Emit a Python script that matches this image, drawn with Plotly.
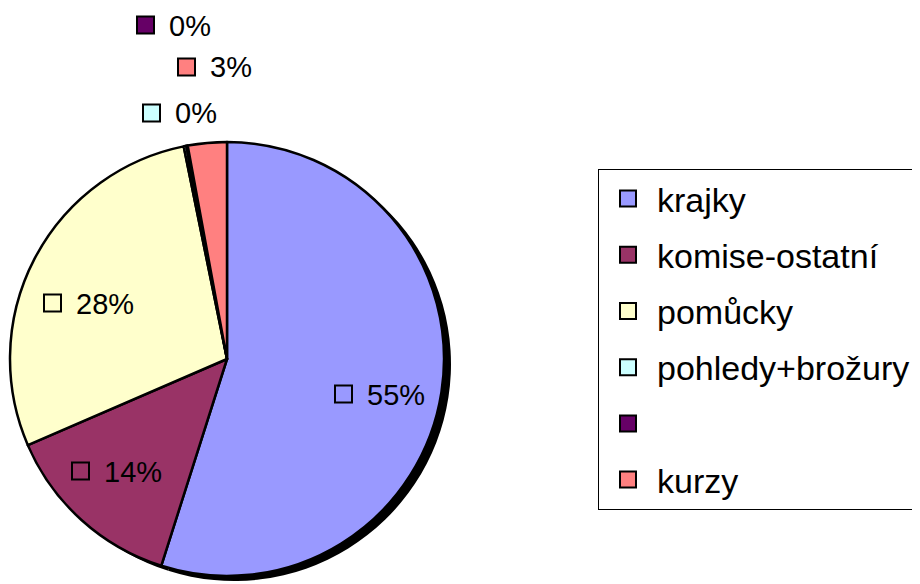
import plotly.graph_objects as go

# ---- data ----
categories = ["krajky", "komise-ostatní", "pomůcky", "pohledy+brožury", "", "kurzy"]
values = [54.9, 13.6, 28.3, 0.2, 0.1, 2.9]
colors = ["#9999FF", "#993366", "#FFFFCC", "#CCFFFF", "#660066", "#FF8080"]

W, H = 920, 584
OFF = 8  # page body margin
FONT = "Liberation Sans, Arial, sans-serif"


def px(x):
    return (x - OFF) / W


def py(y):
    return 1 - (y - OFF) / H


# pie geometry (page pixels)
cx, cy, r = 227, 359, 217
sdx, sdy = 7, 5  # shadow offset


def dom(cx_, cy_):
    return dict(x=[px(cx_ - r), px(cx_ + r)], y=[py(cy_ + r), py(cy_ - r)])


total = sum(values)
pcts = [v / total * 100 for v in values]

fig = go.Figure()

# shadow
fig.add_trace(go.Pie(
    values=values, labels=categories, sort=False, direction="clockwise", rotation=0,
    marker=dict(colors=["#000000"] * len(values), line=dict(width=0)),
    textposition="none", hoverinfo="skip", showlegend=False, domain=dom(cx + sdx, cy + sdy),
))

# main pie
fig.add_trace(go.Pie(
    values=values, labels=categories, sort=False, direction="clockwise", rotation=0,
    marker=dict(colors=colors, line=dict(color="#000000", width=2.5)),
    textposition="none", showlegend=False, domain=dom(cx, cy),
))

# legend entries
for i, (name, col) in enumerate(zip(categories, colors)):
    fig.add_trace(go.Scatter(
        x=[None], y=[None], mode="markers", name=name, legendgroup=f"g{i}",
        marker=dict(symbol="square", size=18, color=col, line=dict(color="#000000", width=2)),
    ))

shapes, annotations = [], []
ks = 17


def add_label(i, key_left, yc):
    shapes.append(dict(type="rect", xref="paper", yref="paper",
                       x0=px(key_left), x1=px(key_left + ks),
                       y0=py(yc + ks / 2), y1=py(yc - ks / 2),
                       fillcolor=colors[i], line=dict(color="#000000", width=2)))
    annotations.append(dict(xref="paper", yref="paper", x=px(key_left + ks + 13), y=py(yc + 0.5),
                            xanchor="left", yanchor="middle", showarrow=False,
                            text=f"{round(pcts[i])}%",
                            font=dict(family=FONT, size=29, color="#000000")))


# data-label placement (key left x, centre y) in page pixels
label_pos = {0: (335, 394), 1: (72, 471), 2: (44, 303),
             3: (143, 113), 4: (137, 25), 5: (178, 67)}
for i, (kx, ky) in label_pos.items():
    add_label(i, kx, ky)

fig.update_layout(
    width=W, height=H,
    margin=dict(l=0, r=0, t=0, b=0),
    paper_bgcolor="#FFFFFF", plot_bgcolor="#FFFFFF",
    xaxis=dict(visible=False), yaxis=dict(visible=False),
    shapes=shapes, annotations=annotations,
    showlegend=True,
    legend=dict(x=px(598), y=py(169), xanchor="left", yanchor="top",
                bordercolor="#000000", borderwidth=1, bgcolor="#FFFFFF",
                font=dict(family=FONT, size=34, color="#000000"),
                tracegroupgap=9, itemwidth=48),
)

fig.write_html("out.html")
